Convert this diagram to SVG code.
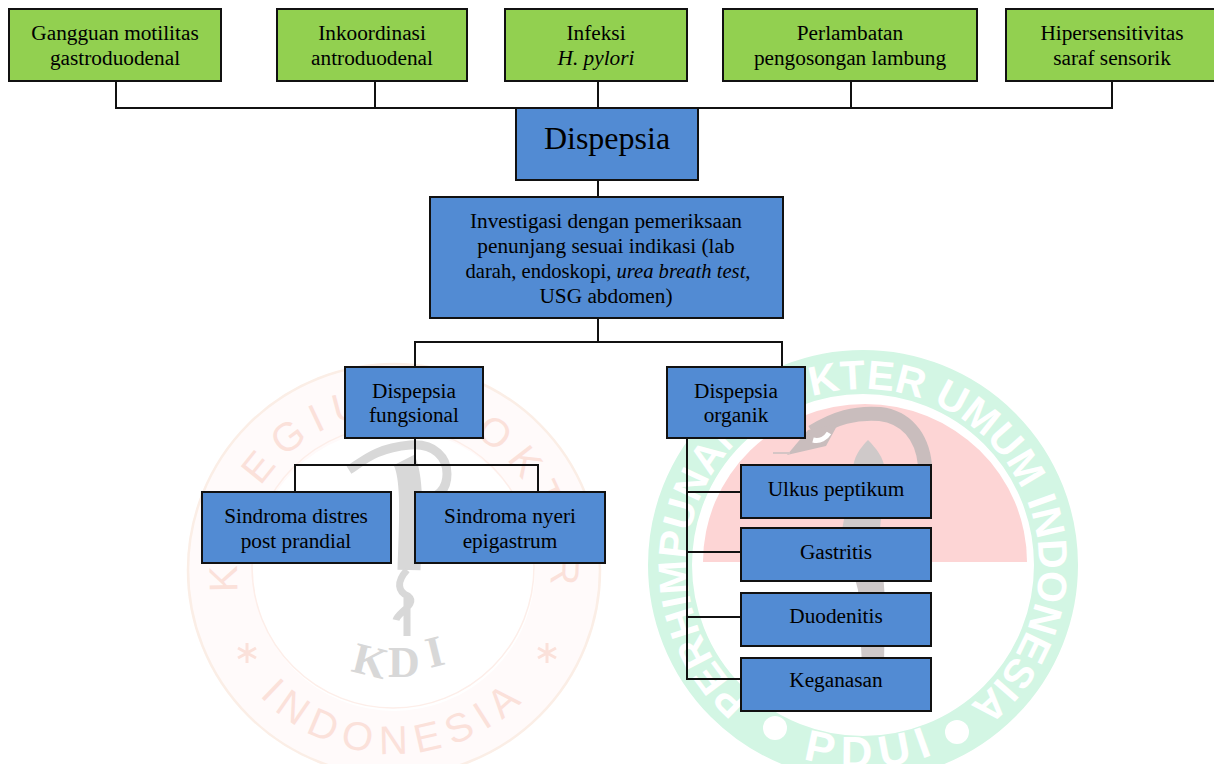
<svg xmlns="http://www.w3.org/2000/svg" width="1214" height="764" viewBox="0 0 1214 764">
<style>
.g{fill:#92d050;stroke:#111;stroke-width:2}
.b{fill:#528bd3;stroke:#111;stroke-width:2}
.t{font-family:"Liberation Serif","Times New Roman",serif;font-size:21.3px;fill:#000;text-anchor:middle}
.i{font-style:italic}
.c{fill:none;stroke:#111;stroke-width:2}
.wl{font-family:"Liberation Sans",Arial,sans-serif;fill:#fbe1da}
.wg{font-family:"Liberation Sans",Arial,sans-serif;font-size:41px;font-weight:bold;fill:#fff}
</style>
<defs>
<path id="lt" d="M238.5 592A157 157 0 1 1 549.5 592"/>
<path id="lb" d="M259.5 695.5A184 184 0 0 0 528.5 695.5"/>
<path id="rt" d="M750 700A176 176 0 1 1 976 700"/>
<path id="rb" d="M788 753A202 202 0 0 0 938 753"/>
</defs>
<g id="watermark-kdi">
<circle cx="394" cy="570" r="174" fill="none" stroke="#fffafa" stroke-width="66"/>
<circle cx="394" cy="570" r="206" fill="none" stroke="#fbeee6" stroke-width="2.5"/>
<circle cx="393" cy="567" r="141" fill="none" stroke="#fdeee9" stroke-width="1.5"/>
<text class="wl" style="font-size:40px" letter-spacing="10"><textPath href="#lt">KOLEGIUM DOKTER</textPath></text>
<text class="wl" style="font-size:40px" letter-spacing="9"><textPath href="#lb">INDONESIA</textPath></text>
<path d="M247 643V663M238 648L256 658M256 648L238 658M547 643V663M538 648L556 658M556 648L538 658" fill="none" stroke="#fbe1da" stroke-width="3"/>
<path d="M349 470C362 462 375 448 410 445C435 443 447 458 447 474C447 490 438 498 422 500" fill="none" stroke="#d8d8d8" stroke-width="9"/>
<path d="M404 460C414 480 410 530 409 570" fill="none" stroke="#d8d8d8" stroke-width="23"/>
<path d="M407 570C396 582 398 592 408 596C418 604 398 612 396 620M407 596V636" fill="none" stroke="#d8d8d8" stroke-width="7"/>
<text font-family="'Liberation Serif',serif" font-weight="bold" font-size="44px" fill="#d8d8d8" x="350 388 430" y="671 677 668" rotate="14 0 -14">KDI</text>
</g>
<g id="watermark-pdui">
<circle cx="863" cy="565" r="193" fill="none" stroke="#d3f6e4" stroke-width="44"/>
<path d="M703 562A162 158 0 0 1 1027 562Z" fill="#fdd5d5"/>
<path d="M812 432C835 418 855 412 880 414C905 417 922 435 925 465V480" fill="none" stroke="#c9bdbd" stroke-width="14"/>
<path d="M787 455L808 430L838 424L826 446Z" fill="#c9bdbd"/>
<path d="M773 453H790" fill="none" stroke="#d5c5c5" stroke-width="2"/>
<path d="M813 440C820 442 826 438 829 433" fill="none" stroke="#fff" stroke-width="5"/>
<path d="M868 440C876 448 884 458 885 470L880 530L885 600L884 665H862L858 590L842 530L853 470C853 458 860 448 868 440Z" fill="#cfc9c9"/>
<text class="wg"><textPath href="#rt">PERHIMPUNAN DOKTER UMUM INDONESIA</textPath></text>
<circle cx="775" cy="728" r="12" fill="#fff"/><circle cx="957" cy="732" r="12" fill="#fff"/>
<text class="wg" style="font-size:44px" letter-spacing="9"><textPath href="#rb" startOffset="16">PDUI</textPath></text>
</g>
<g id="connectors" class="c">
<path d="M116 81V108H1112V81M375 81V108M598 81V108"/>
<path d="M851 81V108"/>
<path d="M598 180V197M598 318V342M415 367V342H782V367"/>
<path d="M415 438V465M295 492V465H538V492"/>
<path d="M687 438V679H741M687 492H741M687 552H741M687 617H741"/>
</g>
<g id="n1"><rect class="g" x="9" y="9" width="212" height="72"/><text class="t" x="115" y="40">Gangguan motilitas</text><text class="t" x="115" y="65">gastroduodenal</text></g>
<g id="n2"><rect class="g" x="277" y="9" width="190" height="72"/><text class="t" x="372" y="40">Inkoordinasi</text><text class="t" x="372" y="65">antroduodenal</text></g>
<g id="n3"><rect class="g" x="505" y="9" width="182" height="72"/><text class="t" x="596" y="40">Infeksi</text><text class="t i" x="596" y="65">H. pylori</text></g>
<g id="n4"><rect class="g" x="723" y="9" width="254" height="72"/><text class="t" x="850" y="40">Perlambatan</text><text class="t" x="850" y="65">pengosongan lambung</text></g>
<g id="n5"><rect class="g" x="1006" y="9" width="213" height="72"/><text class="t" x="1112" y="40">Hipersensitivitas</text><text class="t" x="1112" y="65">saraf sensorik</text></g>
<g id="n6"><rect class="b" x="516" y="108" width="182" height="72"/><text class="t" style="font-size:32px" x="607" y="149">Dispepsia</text></g>
<g id="n7"><rect class="b" x="430" y="197" width="353" height="121"/><text class="t" x="606" y="228">Investigasi dengan pemeriksaan</text><text class="t" x="606" y="253">penunjang sesuai indikasi (lab</text><text class="t" style="font-size:20.6px" x="608" y="278">darah, endoskopi, <tspan class="i">urea breath test</tspan>,</text><text class="t" x="606" y="303">USG abdomen)</text></g>
<g id="n8"><rect class="b" x="345" y="367" width="138" height="71"/><text class="t" x="414" y="398">Dispepsia</text><text class="t" x="414" y="422">fungsional</text></g>
<g id="n9"><rect class="b" x="667" y="367" width="138" height="71"/><text class="t" x="736" y="398">Dispepsia</text><text class="t" x="736" y="422">organik</text></g>
<g id="n10"><rect class="b" x="202" y="492" width="189" height="71"/><text class="t" x="296" y="523">Sindroma distres</text><text class="t" x="296" y="548">post prandial</text></g>
<g id="n11"><rect class="b" x="415" y="492" width="190" height="71"/><text class="t" x="510" y="523">Sindroma nyeri</text><text class="t" x="510" y="548">epigastrum</text></g>
<g id="n12"><rect class="b" x="741" y="465" width="190" height="53"/><text class="t" x="836" y="496">Ulkus peptikum</text></g>
<g id="n13"><rect class="b" x="741" y="528" width="190" height="53"/><text class="t" x="836" y="559">Gastritis</text></g>
<g id="n14"><rect class="b" x="741" y="593" width="190" height="53"/><text class="t" x="836" y="623">Duodenitis</text></g>
<g id="n15"><rect class="b" x="741" y="658" width="190" height="53"/><text class="t" x="836" y="687">Keganasan</text></g>
</svg>
